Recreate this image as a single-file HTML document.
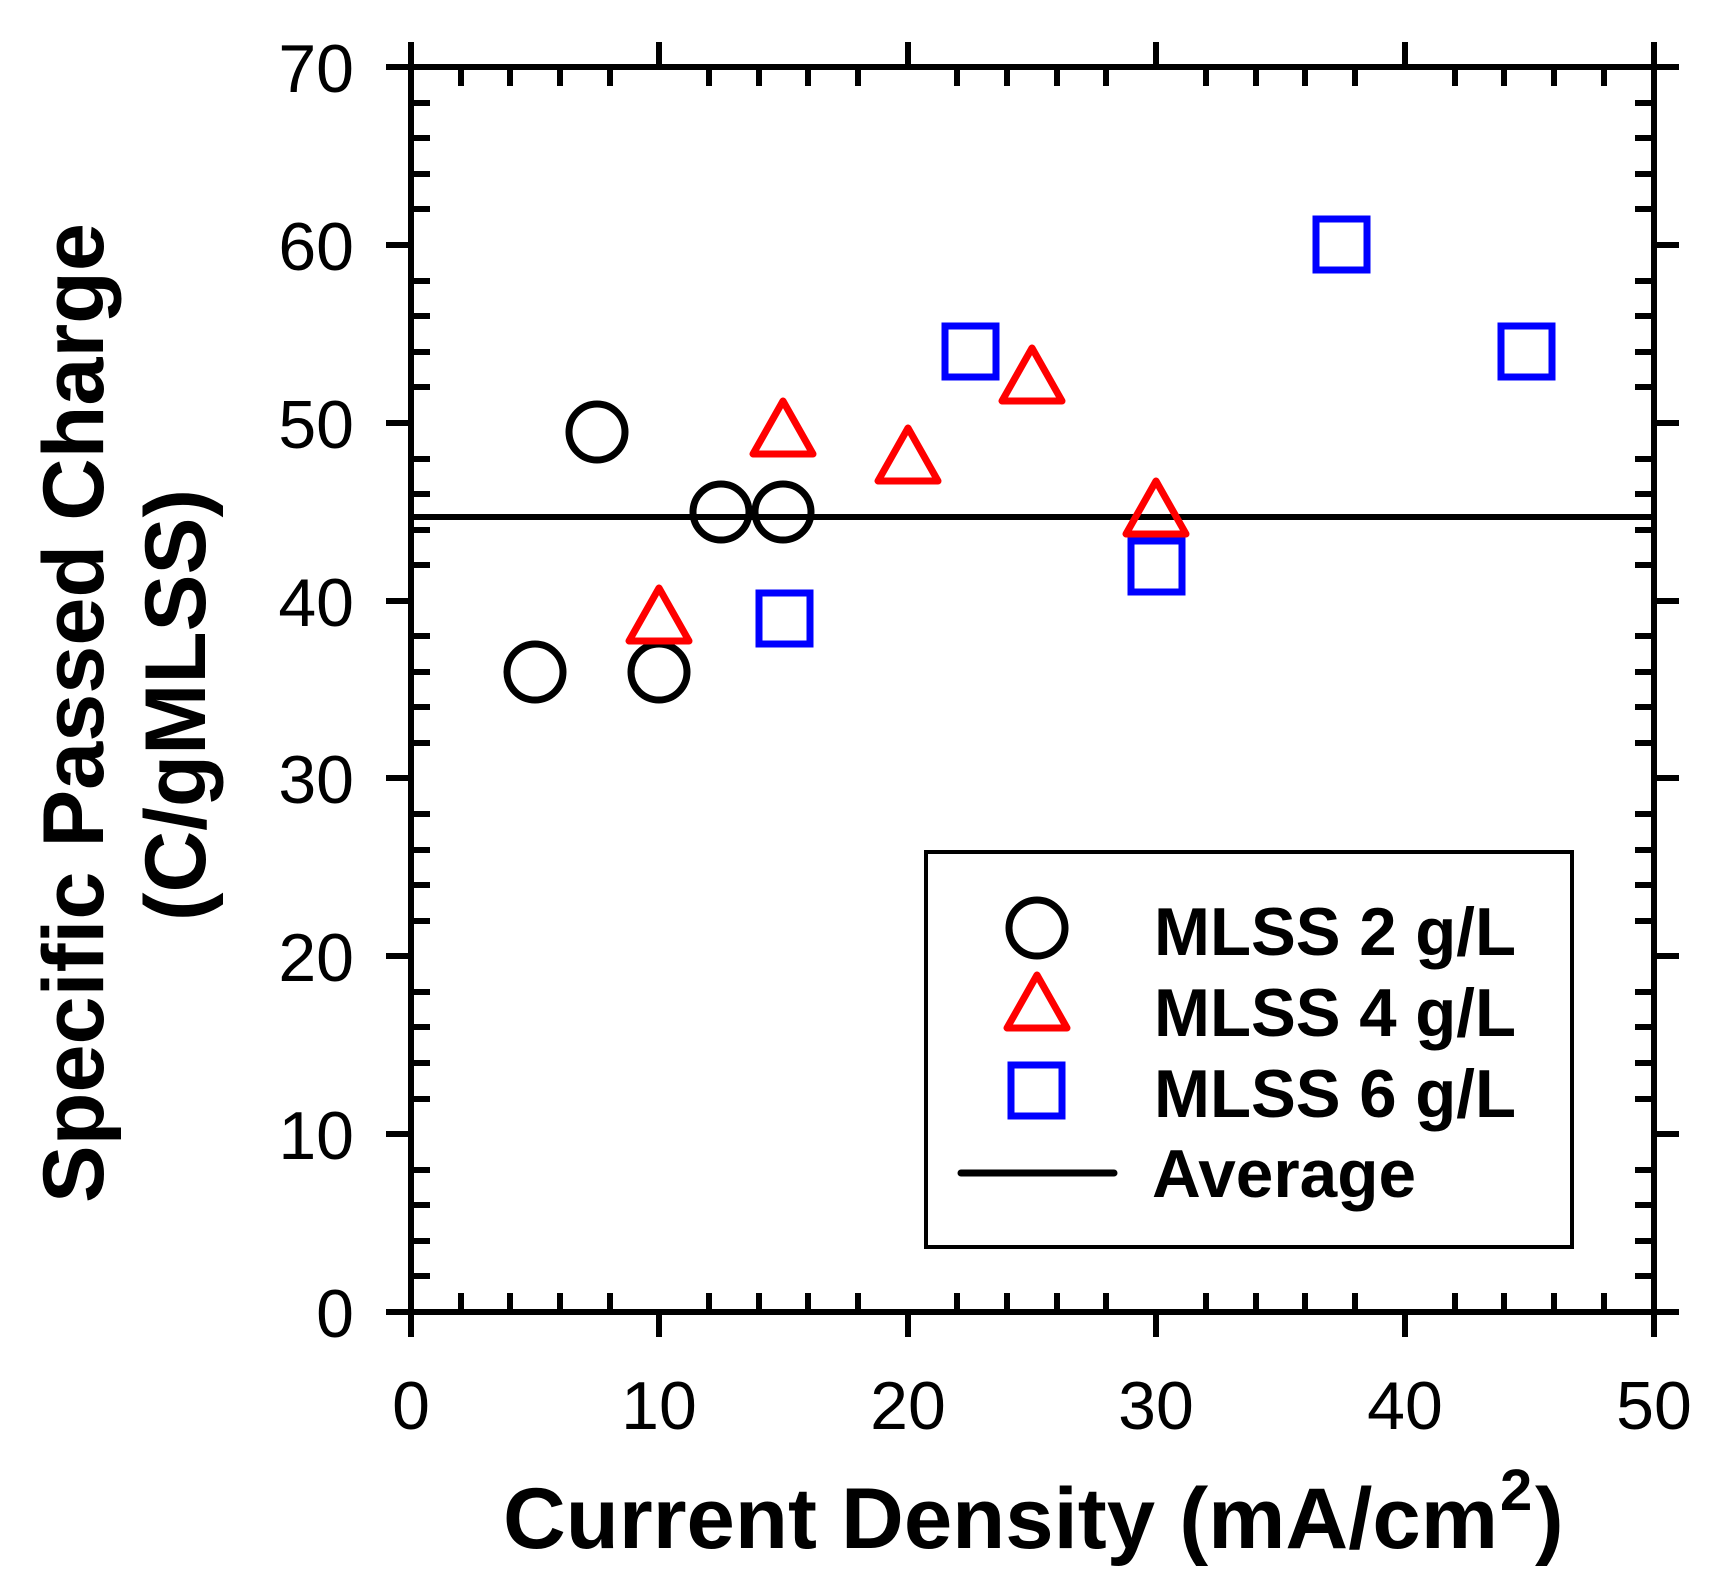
<!DOCTYPE html>
<html><head><meta charset="utf-8"><style>html,body{margin:0;padding:0;background:#fff}svg{display:block}</style></head>
<body>
<svg width="1720" height="1593" viewBox="0 0 1720 1593" xmlns="http://www.w3.org/2000/svg" font-family="Liberation Sans, Arial, sans-serif">
<rect width="1720" height="1593" fill="#fff"/>
<g stroke="#000" stroke-width="6" fill="none" stroke-linecap="square">
<rect x="411" y="67" width="1243" height="1245"/>
<path d="
M411,1312v22 M659,1312v22 M908,1312v22 M1156,1312v22 M1405,1312v22 M1654,1312v22
M411,67v-22 M659,67v-22 M908,67v-22 M1156,67v-22 M1405,67v-22 M1654,67v-22
M461,1312v-16 M510,1312v-16 M560,1312v-16 M610,1312v-16
M709,1312v-16 M759,1312v-16 M808,1312v-16 M858,1312v-16
M957,1312v-16 M1007,1312v-16 M1057,1312v-16 M1106,1312v-16
M1206,1312v-16 M1256,1312v-16 M1305,1312v-16 M1355,1312v-16
M1455,1312v-16 M1504,1312v-16 M1554,1312v-16 M1604,1312v-16
M461,67v16 M510,67v16 M560,67v16 M610,67v16
M709,67v16 M759,67v16 M808,67v16 M858,67v16
M957,67v16 M1007,67v16 M1057,67v16 M1106,67v16
M1206,67v16 M1256,67v16 M1305,67v16 M1355,67v16
M1455,67v16 M1504,67v16 M1554,67v16 M1604,67v16
"/>
<path d="
M411,1312h-22 M411,1134h-22 M411,956h-22 M411,778h-22 M411,601h-22 M411,423h-22 M411,245h-22 M411,67h-22
M1654,1312h22 M1654,1134h22 M1654,956h22 M1654,778h22 M1654,601h22 M1654,423h22 M1654,245h22 M1654,67h22
M411,1276h16 M411,1241h16 M411,1205h16 M411,1170h16
M411,1099h16 M411,1063h16 M411,1027h16 M411,992h16
M411,921h16 M411,885h16 M411,850h16 M411,814h16
M411,743h16 M411,707h16 M411,672h16 M411,636h16
M411,565h16 M411,530h16 M411,494h16 M411,459h16
M411,387h16 M411,352h16 M411,316h16 M411,281h16
M411,209h16 M411,174h16 M411,138h16 M411,103h16
M1654,1276h-16 M1654,1241h-16 M1654,1205h-16 M1654,1170h-16
M1654,1099h-16 M1654,1063h-16 M1654,1027h-16 M1654,992h-16
M1654,921h-16 M1654,885h-16 M1654,850h-16 M1654,814h-16
M1654,743h-16 M1654,707h-16 M1654,672h-16 M1654,636h-16
M1654,565h-16 M1654,530h-16 M1654,494h-16 M1654,459h-16
M1654,387h-16 M1654,352h-16 M1654,316h-16 M1654,281h-16
M1654,209h-16 M1654,174h-16 M1654,138h-16 M1654,103h-16
"/>
</g>
<g font-size="68" fill="#000" text-anchor="end">
<text x="354" y="1337">0</text><text x="354" y="1159">10</text><text x="354" y="981">20</text><text x="354" y="803">30</text><text x="354" y="626">40</text><text x="354" y="448">50</text><text x="354" y="270">60</text><text x="354" y="92">70</text>
</g>
<g font-size="68" fill="#000" text-anchor="middle">
<text x="411" y="1429">0</text><text x="659" y="1429">10</text><text x="908" y="1429">20</text><text x="1156" y="1429">30</text><text x="1405" y="1429">40</text><text x="1654" y="1429">50</text>
</g>
<text x="503" y="1548" font-size="86" font-weight="bold" textLength="995" lengthAdjust="spacingAndGlyphs">Current Density (mA/cm</text>
<text x="1500" y="1510" font-size="58" font-weight="bold">2</text>
<text x="1535" y="1548" font-size="86" font-weight="bold">)</text>
<text transform="translate(103,713) rotate(-90)" text-anchor="middle" font-size="86" font-weight="bold" textLength="980" lengthAdjust="spacingAndGlyphs">Specific Passed Charge</text>
<text transform="translate(205,705) rotate(-90)" text-anchor="middle" font-size="86" font-weight="bold" textLength="432" lengthAdjust="spacingAndGlyphs">(C/gMLSS)</text>
<line x1="411" y1="517" x2="1654" y2="517" stroke="#000" stroke-width="6"/>
<g fill="none" stroke="#000" stroke-width="7">
<circle cx="535" cy="672" r="28"/><circle cx="597" cy="432" r="28"/><circle cx="659" cy="672" r="28"/><circle cx="721" cy="512" r="28"/><circle cx="783" cy="512" r="28"/>
</g>
<g fill="none" stroke="#f00" stroke-width="7" stroke-linejoin="round">
<path d="M659,588 l-30,53 h60 z"/><path d="M783,401 l-30,53 h60 z"/><path d="M908,428 l-30,53 h60 z"/><path d="M1032,348 l-30,53 h60 z"/><path d="M1156,481 l-30,53 h60 z"/>
</g>
<g fill="none" stroke="#00f" stroke-width="7">
<rect x="759" y="593" width="51" height="51"/><rect x="945" y="326" width="51" height="51"/><rect x="1131" y="541" width="51" height="51"/><rect x="1316" y="219" width="51" height="51"/><rect x="1501" y="326" width="51" height="51"/>
</g>
<rect x="926" y="852" width="646" height="395" fill="none" stroke="#000" stroke-width="4"/>
<circle cx="1037" cy="928" r="28" fill="none" stroke="#000" stroke-width="7"/>
<path d="M1037,975 l-30,53 h60 z" fill="none" stroke="#f00" stroke-width="7" stroke-linejoin="round"/>
<rect x="1011" y="1065" width="51" height="51" fill="none" stroke="#00f" stroke-width="7"/>
<line x1="961" y1="1173" x2="1114" y2="1173" stroke="#000" stroke-width="7" stroke-linecap="round"/>
<g font-size="68" font-weight="bold" fill="#000">
<text x="1154" y="955" textLength="362" lengthAdjust="spacingAndGlyphs">MLSS 2 g/L</text>
<text x="1154" y="1036" textLength="362" lengthAdjust="spacingAndGlyphs">MLSS 4 g/L</text>
<text x="1154" y="1117" textLength="362" lengthAdjust="spacingAndGlyphs">MLSS 6 g/L</text>
<text x="1152" y="1197" textLength="264" lengthAdjust="spacingAndGlyphs">Average</text>
</g>
</svg>
</body></html>
